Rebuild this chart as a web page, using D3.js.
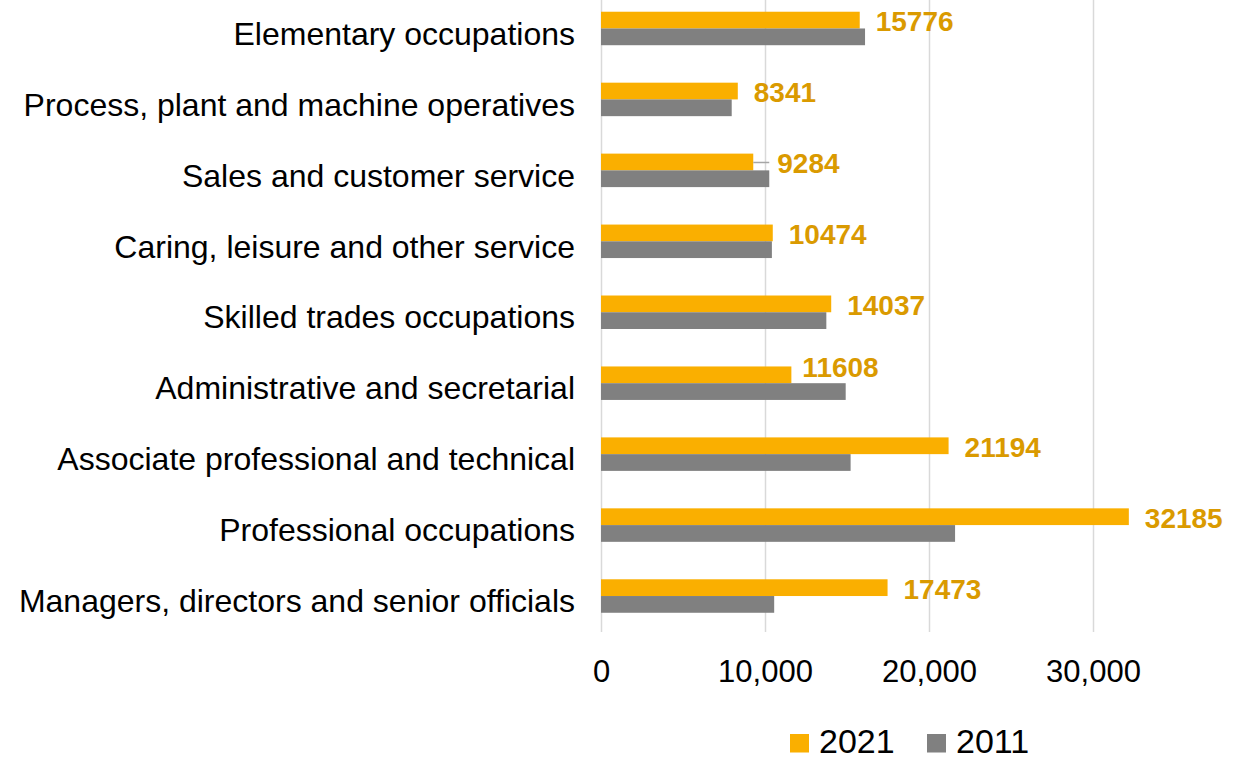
<!DOCTYPE html>
<html>
<head>
<meta charset="utf-8">
<script src="https://cdn.jsdelivr.net/npm/d3@7"></script>
<style>
  html, body { margin: 0; padding: 0; background: #ffffff; }
  svg { display: block; }
  text { font-family: "Liberation Sans", Arial, sans-serif; }
</style>
</head>
<body>
<svg id="chart" width="1253" height="760"></svg>
<script>
// Occupation groups, top to bottom
const categories = [
  "Elementary occupations",
  "Process, plant and machine operatives",
  "Sales and customer service",
  "Caring, leisure and other service",
  "Skilled trades occupations",
  "Administrative and secretarial",
  "Associate professional and technical",
  "Professional occupations",
  "Managers, directors and senior officials"
];
const seriesNames = ["2021", "2011"];
const values2021 = [15776, 8341, 9284, 10474, 14037, 11608, 21194, 32185, 17473];
const values2011 = [16100, 7970, 10260, 10420, 13740, 14920, 15220, 21590, 10560];
const tickValues = [0, 10000, 20000, 30000];

const colors = { "2021": "#FAAF00", "2011": "#808080" };
const labelColor = "#DA9A00";

const svg = d3.select("#chart");
svg.append("rect").attr("width", 1253).attr("height", 760).attr("fill", "#ffffff");

const x = d3.scaleLinear().domain([0, 35000]).range([601, 1175]);
const y = d3.scaleBand().domain(categories).range([-7, 631.5])
  .paddingInner(0.528).paddingOuter(0.264);
const ySub = d3.scaleBand().domain(seriesNames).range([0, y.bandwidth()]);

// vertical gridlines (the zero line doubles as the axis)
const xAxis = d3.axisBottom(x)
  .tickValues(tickValues)
  .tickSize(-632)
  .tickPadding(0)
  .tickFormat(d3.format(","));
const gx = svg.append("g").attr("transform", "translate(0,632)").call(xAxis);
gx.select(".domain").remove();
gx.selectAll(".tick line").attr("stroke", "#d9d9d9").attr("stroke-width", 1.5);
gx.selectAll(".tick text")
  .attr("y", 50).attr("dy", null)
  .attr("fill", "#000").style("font-size", "31px");

// bars
const rows = categories.map((c, i) => ({ cat: c, v2021: values2021[i], v2011: values2011[i] }));
const groups = svg.append("g").selectAll("g").data(rows).join("g")
  .attr("transform", d => `translate(0,${y(d.cat)})`);

groups.append("rect")
  .attr("x", x(0)).attr("y", ySub("2021"))
  .attr("width", d => x(d.v2021) - x(0)).attr("height", ySub.bandwidth())
  .attr("fill", colors["2021"]);
groups.append("rect")
  .attr("x", x(0)).attr("y", ySub("2011"))
  .attr("width", d => x(d.v2011) - x(0)).attr("height", ySub.bandwidth())
  .attr("fill", colors["2011"]);

// category labels
svg.append("g").selectAll("text").data(categories).join("text")
  .attr("x", 575)
  .attr("y", d => y(d) + y.bandwidth() - 0.5)
  .attr("text-anchor", "end")
  .attr("fill", "#000")
  .style("font-size", "32px")
  .text(d => d);

// value labels for 2021, with a couple of hand-placed ones
const nudges = {
  "Sales and customer service": { dx: 8, dy: 0, leader: true },
  "Administrative and secretarial": { dx: -5, dy: -9.5, leader: false }
};
groups.each(function (d) {
  const g = d3.select(this);
  const n = nudges[d.cat] || { dx: 0, dy: 0, leader: false };
  const endX = x(d.v2021);
  const lx = endX + 16 + n.dx;
  const ly = ySub("2021") + ySub.bandwidth() + 3 + n.dy;
  if (n.leader) {
    g.append("line")
      .attr("x1", endX).attr("x2", lx - 8)
      .attr("y1", ySub("2021") + ySub.bandwidth() / 2 + 0.5)
      .attr("y2", ySub("2021") + ySub.bandwidth() / 2 + 0.5)
      .attr("stroke", "#a6a6a6").attr("stroke-width", 1.5);
  }
  g.append("text")
    .attr("x", lx).attr("y", ly)
    .attr("fill", labelColor)
    .style("font-size", "28px").style("font-weight", "bold")
    .text(d.v2021);
});

// legend
const legend = svg.append("g");
const legendItems = [
  { name: "2021", sx: 790 },
  { name: "2011", sx: 927 }
];
legend.selectAll("rect").data(legendItems).join("rect")
  .attr("x", d => d.sx).attr("y", 734)
  .attr("width", 19).attr("height", 18.5)
  .attr("fill", d => colors[d.name]);
legend.selectAll("text").data(legendItems).join("text")
  .attr("x", d => d.sx + 29).attr("y", 753)
  .attr("fill", "#000")
  .style("font-size", "34px")
  .text(d => d.name);
</script>
</body>
</html>
